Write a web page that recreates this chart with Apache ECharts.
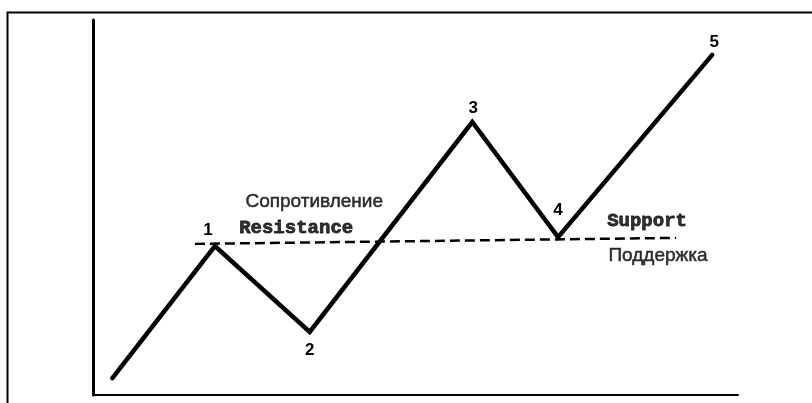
<!DOCTYPE html>
<html>
<head>
<meta charset="utf-8">
<script src="https://cdn.jsdelivr.net/npm/echarts@6/dist/echarts.min.js"></script>
<style>html,body{margin:0;padding:0;background:#fff;}#c{width:812px;height:403px;}</style>
</head>
<body>
<div id="c"></div>
<script>
// Wave points (x: time, y: price), in axis units 0..100
const waveX = [3.0, 18.9, 33.6, 58.8, 72.1, 96.0];
const waveY = [4.5, 39.7, 16.8, 72.8, 42.1, 90.7];
const waveLabels = ['', '1', '2', '3', '4', '5'];
// Support / resistance level (dashed)
const levelX = [15.8, 90.4];
const levelY = [40.3, 41.9];
// Text annotations
const noteText = ['Сопротивление', 'Resistance', 'Support', 'Поддержка'];
const noteX = [34.3, 31.5, 85.9, 87.6];
const noteY = [51.5, 44.6, 46.3, 37.1];

const labelOffsets = [[0,0], [-7,-16], [0,18], [1,-14], [0,-27], [2,-13]];
const noteStyles = [
  {fontFamily: 'Liberation Sans', fontSize: 19, fontWeight: 'normal', textBorderColor: '#000', textBorderWidth: 0.5},
  {fontFamily: 'Liberation Mono', fontSize: 19, fontWeight: 'bold', textBorderColor: '#000', textBorderWidth: 0.8},
  {fontFamily: 'Liberation Mono', fontSize: 19, fontWeight: 'bold', textBorderColor: '#000', textBorderWidth: 0.8},
  {fontFamily: 'Liberation Sans', fontSize: 19, fontWeight: 'normal', textBorderColor: '#000', textBorderWidth: 0.5}
];

const chart = echarts.init(document.getElementById('c'), null, {renderer: 'canvas'});
chart.setOption({
  animation: false,
  backgroundColor: '#fff',
  graphic: [{
    type: 'rect', left: 5, top: 10, shape: {x: 0, y: 0, width: 830, height: 420},
    style: {fill: 'none', stroke: '#000', lineWidth: 2}, silent: true, z: -1
  }],
  grid: {left: 93, right: 74, top: 20, bottom: 8},
  xAxis: {
    type: 'value', min: 0, max: 100,
    axisLine: {show: true, onZero: false, lineStyle: {color: '#000', width: 2}},
    axisTick: {show: false}, axisLabel: {show: false}, splitLine: {show: false}
  },
  yAxis: {
    type: 'value', min: 0, max: 100,
    axisLine: {show: true, onZero: false, lineStyle: {color: '#000', width: 3}},
    axisTick: {show: false}, axisLabel: {show: false}, splitLine: {show: false}
  },
  series: [
    {
      type: 'line',
      data: levelX.map((x, i) => [x, levelY[i]]),
      symbol: 'none',
      lineStyle: {color: '#000', width: 2.5, type: [10, 5]},
      z: 2
    },
    {
      type: 'line',
      data: waveX.map((x, i) => ({
        value: [x, waveY[i]],
        label: {show: waveLabels[i] !== '', formatter: waveLabels[i], offset: labelOffsets[i]}
      })),
      symbol: 'circle', symbolSize: 0.1, showSymbol: true,
      itemStyle: {color: '#000'},
      lineStyle: {color: '#000', width: 4.5, join: 'miter', cap: 'round'},
      label: {position: 'inside', color: '#000', fontFamily: 'Liberation Sans', fontWeight: 'bold', fontSize: 17},
      z: 3
    },
    {
      type: 'scatter',
      symbolSize: 0,
      data: noteText.map((t, i) => ({
        value: [noteX[i], noteY[i]],
        label: Object.assign({show: true, formatter: t, position: 'inside', color: '#000'}, noteStyles[i])
      })),
      z: 4
    }
  ]
});
</script>
</body>
</html>
